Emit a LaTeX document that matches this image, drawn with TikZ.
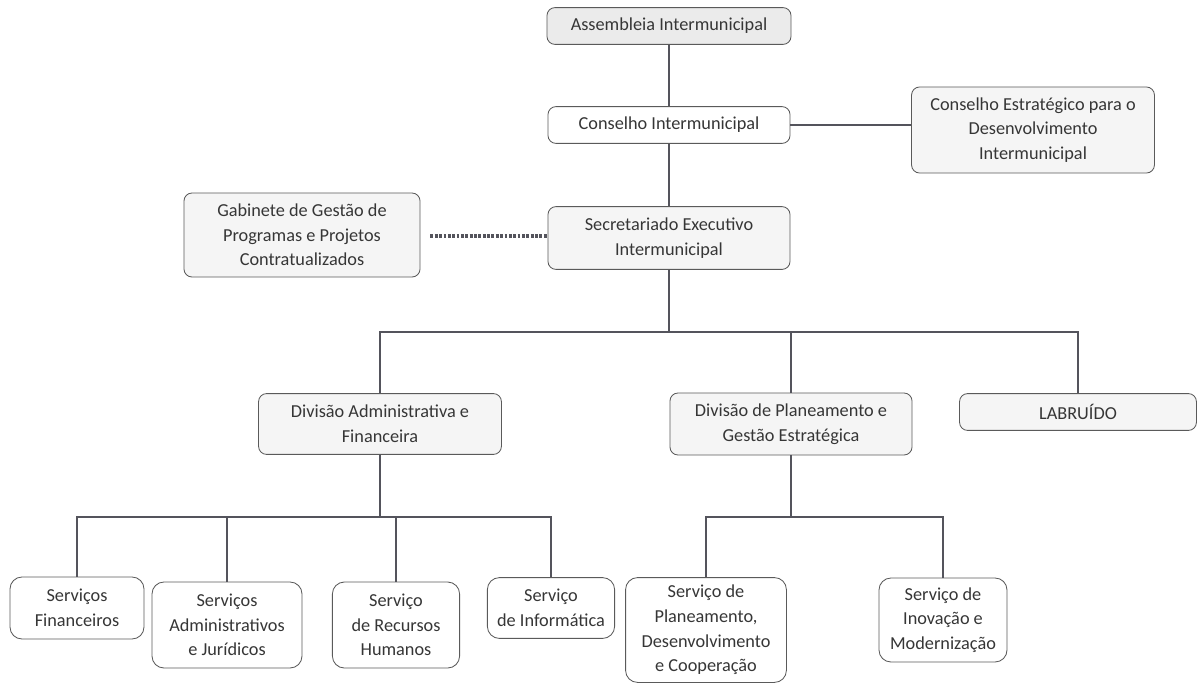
\documentclass[tikz,border=0pt]{standalone}
\usepackage{fontspec}
\setmainfont{Carlito}
\usepackage{xcolor}
\usepackage{tikz}
\usetikzlibrary{positioning,calc}

\definecolor{linegray}{HTML}{54545C}
\definecolor{boxgray}{HTML}{5A5A5A}
\definecolor{txtgray}{HTML}{363636}

\tikzset{
    unit/.style={draw=boxgray, line width=0.6pt, rounded corners=0.2cm,
        align=center, inner sep=0pt, text=txtgray,
        font=\fontsize{13}{17.5}\selectfont},
    plainbox/.style={unit, fill=white, rounded corners=0.3cm},
    shadebox/.style={unit, fill=gray!8},
    topbox/.style={unit, fill=gray!16},
    link/.style={draw=linegray, line width=2.1pt},
    dotlink/.style={draw=linegray, line width=2.3pt, dash pattern=on 2pt off 1.1pt}
}

\begin{document}
\begin{tikzpicture}[x=0.025cm,y=-0.025cm]
    \useasboundingbox (0,0) rectangle (1199,686);

    % top levels
    \node[topbox,minimum width=6.1cm,minimum height=0.92cm] (assembleia) at (669,26) {Assembleia Intermunicipal};
    \node[unit,fill=white,minimum width=6.05cm,minimum height=0.92cm] (conselho) at (669,125) {Conselho Intermunicipal};
    \node[shadebox,minimum width=6.07cm,minimum height=2.15cm] (estrategico) at (1033,130) {Conselho Estratégico para o\\Desenvolvimento\\Intermunicipal};
    \node[shadebox,minimum width=5.9cm,minimum height=2.1cm] (gabinete) at (302,235) {Gabinete de Gestão de\\Programas e Projetos\\Contratualizados};
    \node[shadebox,minimum width=6.05cm,minimum height=1.57cm] (secretariado) at (669,238) {Secretariado Executivo\\Intermunicipal};

    % divisions
    \node[shadebox,minimum width=6.07cm,minimum height=1.52cm] (divadmin) at (380,424) {Divisão Administrativa e\\Financeira};
    \node[shadebox,minimum width=6.05cm,minimum height=1.55cm] (divplan) at (791,424) {Divisão de Planeamento e\\Gestão Estratégica};
    \node[shadebox,minimum width=5.92cm,minimum height=0.92cm] (labruido) at (1078,412) {LABRUÍDO};

    % services
    \node[plainbox,minimum width=3.35cm,minimum height=1.55cm] (srvfin) at (77,608) {Serviços\\Financeiros};
    \node[plainbox,minimum width=3.75cm,minimum height=2.15cm] (srvadm) at (227,625) {Serviços\\Administrativos\\e Jurídicos};
    \node[plainbox,minimum width=3.18cm,minimum height=2.15cm] (srvrh) at (396,625) {Serviço\\de Recursos\\Humanos};
    \node[plainbox,minimum width=3.18cm,minimum height=1.52cm] (srvinf) at (551,608) {Serviço\\de Informática};
    \node[plainbox,minimum width=4.02cm,minimum height=2.62cm] (srvplan) at (706,630) {Serviço de\\Planeamento,\\Desenvolvimento\\e Cooperação};
    \node[plainbox,minimum width=3.2cm,minimum height=2.1cm] (srvinov) at (943,620) {Serviço de\\Inovação e\\Modernização};

    % bus points
    \coordinate (busA) at (669,332);
    \coordinate (busB) at (380,517);
    \coordinate (busC) at (791,517);

    % connectors
    \draw[link] (assembleia.south) -- (conselho.north);
    \draw[link] (conselho.south) -- (secretariado.north);
    \draw[link] (conselho.east) -- (conselho.east -| estrategico.west);
    \draw[dotlink,shorten <=0.25cm] (gabinete.east |- 0,236) -- (secretariado.west |- 0,236);

    \draw[link] (secretariado.south) -- (busA);
    \draw[link] (divadmin.north) |- (busA) -| (labruido.north);
    \draw[link] (busA) -| (divplan.north);

    \draw[link] (divadmin.south) -- (busB);
    \draw[link] (srvfin.north) |- (busB) -| (srvinf.north);
    \draw[link] (srvadm.north) -- (srvadm.north |- busB);
    \draw[link] (srvrh.north) -- (srvrh.north |- busB);

    \draw[link] (divplan.south) -- (busC);
    \draw[link] (srvplan.north) |- (busC) -| (srvinov.north);
\end{tikzpicture}
\end{document}
